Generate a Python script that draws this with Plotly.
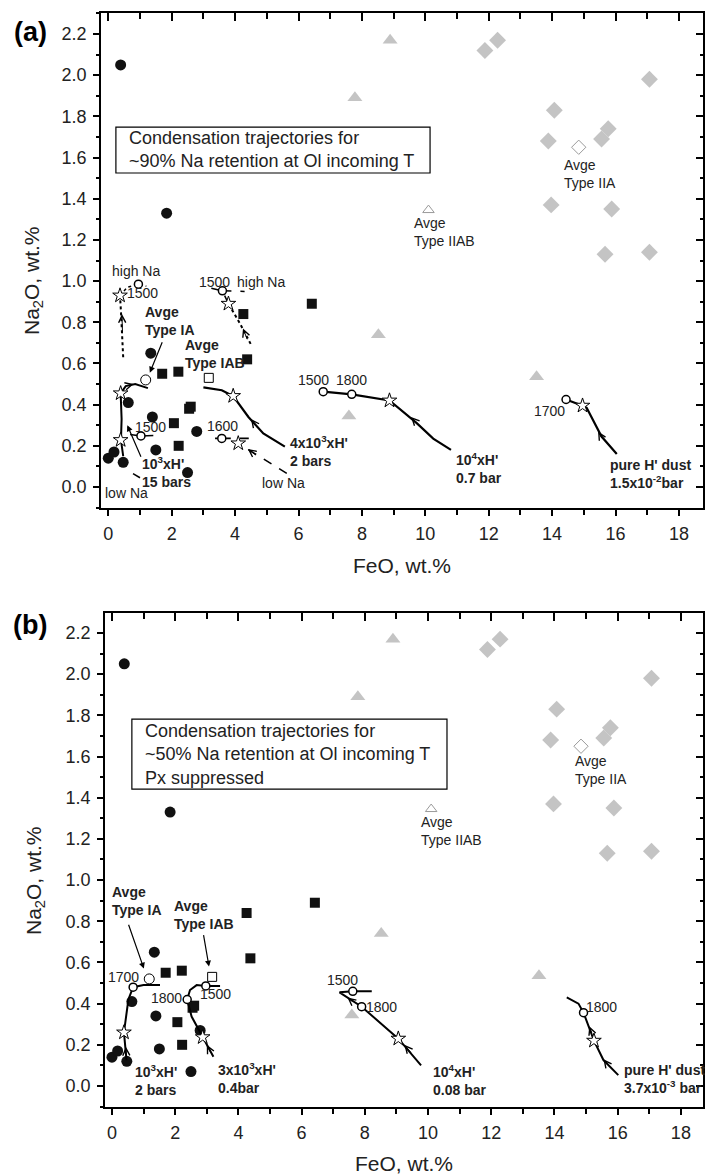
import plotly.graph_objects as go

FONT = "Liberation Sans, Arial, Helvetica, sans-serif"

# ---------------- meteorite data (same in both panels) ----------------
ia_feo = [0.39, 1.84, 0.00, 0.18, 0.47, 0.63, 1.34, 1.39, 1.50, 2.50, 2.79]
ia_na = [2.05, 1.33, 0.14, 0.17, 0.12, 0.41, 0.65, 0.34, 0.18, 0.07, 0.27]
iab_feo = [1.70, 2.21, 2.07, 2.22, 2.55, 2.60, 4.26, 4.38, 6.42]
iab_na = [0.55, 0.56, 0.31, 0.20, 0.38, 0.39, 0.84, 0.62, 0.89]
iiab_feo = [8.89, 7.78, 8.52, 13.51, 7.59]
iiab_na = [2.17, 1.89, 0.74, 0.535, 0.345]
iia_feo = [11.88, 12.28, 17.07, 14.07, 13.88, 15.77, 15.56, 13.97, 15.88, 15.67, 17.07]
iia_na = [2.12, 2.17, 1.98, 1.83, 1.68, 1.74, 1.69, 1.37, 1.35, 1.13, 1.14]
avg_ia_feo, avg_ia_na = [1.18], [0.52]
avg_iab_feo, avg_iab_na = [3.17], [0.53]
avg_iiab_feo, avg_iiab_na = [10.10], [1.345]
avg_iia_feo, avg_iia_na = [14.84], [1.65]

# ---------------- panel (a) trajectories ----------------
a1_feo = [0.47, 0.40, 0.42, 0.39, 0.55, 0.85, 1.25]
a1_na = [0.15, 0.228, 0.33, 0.455, 0.49, 0.50, 0.48]
a1lo_feo = [0.69, 1.03, 1.42]
a1lo_na = [0.255, 0.248, 0.25]
a1tail_feo = [0.78, 1.00]
a1tail_na = [0.065, 0.045]
a1hi_feo = [0.47, 0.44, 0.40, 0.37]
a1hi_na = [0.63, 0.75, 0.85, 0.93]
a1hid_feo = [0.37, 0.60, 0.95, 1.20]
a1hid_na = [0.93, 0.97, 0.985, 0.975]

a2_feo = [5.57, 4.89, 4.42, 3.94, 3.58, 3.00]
a2_na = [0.196, 0.26, 0.34, 0.442, 0.47, 0.484]
a2lo_feo = [5.63, 4.42, 4.10, 3.58, 3.30]
a2lo_na = [0.066, 0.18, 0.212, 0.236, 0.236]
a2lo2_feo = [3.58, 4.50]
a2lo2_na = [0.236, 0.236]
a2hi_feo = [4.49, 4.15, 3.79]
a2hi_na = [0.695, 0.795, 0.89]
a2hid_feo = [3.79, 3.60, 3.25]
a2hid_na = [0.89, 0.953, 0.965]
a2hid2_feo = [3.60, 4.30]
a2hid2_na = [0.953, 0.95]

a3_feo = [10.81, 10.25, 9.73, 8.87, 7.68, 6.78]
a3_na = [0.18, 0.235, 0.31, 0.42, 0.45, 0.463]
a4_feo = [16.04, 15.56, 15.09, 14.96, 14.44]
a4_na = [0.16, 0.245, 0.385, 0.395, 0.425]

stars_a_feo = [0.39, 0.39, 0.37, 3.94, 4.10, 3.79, 8.87, 14.96]
stars_a_na = [0.455, 0.228, 0.93, 0.442, 0.212, 0.89, 0.42, 0.395]
tcirc_a_feo = [1.03, 0.95, 3.58, 3.60, 6.78, 7.68, 14.44]
tcirc_a_na = [0.248, 0.985, 0.236, 0.953, 0.463, 0.45, 0.425]

# ---------------- panel (b) trajectories ----------------
b1_feo = [0.46, 0.38, 0.52, 0.67, 1.00, 1.52]
b1_na = [0.126, 0.26, 0.42, 0.48, 0.49, 0.49]
b2_feo = [3.21, 2.87, 2.52, 2.38, 2.47, 2.68, 2.97, 3.42]
b2_na = [0.142, 0.237, 0.337, 0.42, 0.466, 0.49, 0.486, 0.486]
b3_feo = [9.78, 9.06, 7.90, 7.20, 7.62, 8.22]
b3_na = [0.10, 0.23, 0.385, 0.455, 0.46, 0.46]
b4_feo = [16.02, 15.55, 15.25, 14.92, 14.76, 14.39]
b4_na = [0.053, 0.126, 0.22, 0.356, 0.40, 0.43]

stars_b_feo = [0.38, 2.87, 9.06, 15.25]
stars_b_na = [0.26, 0.237, 0.23, 0.22]
tcirc_b_feo = [0.67, 2.38, 2.97, 7.62, 7.90, 14.92]
tcirc_b_na = [0.48, 0.42, 0.486, 0.46, 0.385, 0.356]

fig = go.Figure()


def line(x, y, xa, ya, dash="solid", width=2.0):
    fig.add_trace(go.Scatter(x=x, y=y, xaxis=xa, yaxis=ya, mode="lines",
                             line=dict(color="black", width=width, dash=dash),
                             showlegend=False, hoverinfo="skip"))


def pts(x, y, xa, ya, symbol, size, color, lc=None, lw=0):
    fig.add_trace(go.Scatter(x=x, y=y, xaxis=xa, yaxis=ya, mode="markers",
                             marker=dict(symbol=symbol, size=size, color=color,
                                         line=dict(color=lc or color, width=lw)),
                             showlegend=False, hoverinfo="skip"))


def data_markers(xa, ya):
    pts(iia_feo, iia_na, xa, ya, "diamond", 13, "#c4c4c4")
    pts(iiab_feo, iiab_na, xa, ya, "triangle-up", 13, "#c4c4c4")
    pts(ia_feo, ia_na, xa, ya, "circle", 11, "#111111")
    pts(iab_feo, iab_na, xa, ya, "square", 10, "#111111")
    pts(avg_ia_feo, avg_ia_na, xa, ya, "circle", 10, "white", "black", 1)
    pts(avg_iab_feo, avg_iab_na, xa, ya, "square", 9, "white", "black", 1)
    pts(avg_iiab_feo, avg_iiab_na, xa, ya, "triangle-up", 10, "white", "#9a9a9a", 1)
    pts(avg_iia_feo, avg_iia_na, xa, ya, "diamond", 11, "white", "#9a9a9a", 1)


# panel (a)
data_markers("x", "y")
line(a1_feo, a1_na, "x", "y")
line(a1lo_feo, a1lo_na, "x", "y", width=1.5)
line(a1tail_feo, a1tail_na, "x", "y", "dash", 1.5)
line(a1hi_feo, a1hi_na, "x", "y", "dot", 2)
line(a1hid_feo, a1hid_na, "x", "y", "dot", 1.5)
line(a2_feo, a2_na, "x", "y", width=2.2)
line(a2lo_feo, a2lo_na, "x", "y", "dash", 1.6)
line(a2lo2_feo, a2lo2_na, "x", "y", "dash", 1.6)
line(a2hi_feo, a2hi_na, "x", "y", "dot", 2)
line(a2hid_feo, a2hid_na, "x", "y", "dash", 1.5)
line(a2hid2_feo, a2hid2_na, "x", "y", "dash", 1.5)
line(a3_feo, a3_na, "x", "y", width=2.2)
line(a4_feo, a4_na, "x", "y", width=2.2)
pts(tcirc_a_feo, tcirc_a_na, "x", "y", "circle", 8, "white", "black", 1.5)
pts(stars_a_feo, stars_a_na, "x", "y", "star", 11, "white", "black", 1)

# panel (b)
data_markers("x2", "y2")
line(b1_feo, b1_na, "x2", "y2")
line(b2_feo, b2_na, "x2", "y2")
line(b3_feo, b3_na, "x2", "y2")
line(b4_feo, b4_na, "x2", "y2")
pts(tcirc_b_feo, tcirc_b_na, "x2", "y2", "circle", 8, "white", "black", 1.5)
pts(stars_b_feo, stars_b_na, "x2", "y2", "star", 11, "white", "black", 1)

# invisible traces so the mirrored (inside-tick) axes get drawn
fig.add_trace(go.Scatter(x=[5], y=[1], xaxis="x3", yaxis="y3", mode="markers",
                         marker=dict(opacity=0), showlegend=False, hoverinfo="skip"))
fig.add_trace(go.Scatter(x=[5], y=[1], xaxis="x4", yaxis="y4", mode="markers",
                         marker=dict(opacity=0), showlegend=False, hoverinfo="skip"))

# ---------------- axes ----------------
xr_a = [-0.23, 18.76]
yr_a = [-0.102, 2.302]
xr_b = [-0.22, 18.70]
yr_b = [-0.102, 2.297]
dom_xa = [101 / 705, 703 / 705]
dom_ya = [1 - 508 / 1174, 1 - 13 / 1174]
dom_xb = [105 / 705, 703 / 705]
dom_yb = [1 - 1107 / 1174, 1 - 613 / 1174]

tickfont = dict(family=FONT, size=18, color="#222222")


def xax(domain, rng, anchor):
    return dict(domain=domain, range=rng, anchor=anchor, tick0=0, dtick=2,
                ticks="outside", ticklen=6, tickwidth=1.5, tickcolor="black",
                ticklabelstandoff=2,
                minor=dict(dtick=1, ticks="outside", ticklen=5, tickwidth=1.5, tickcolor="black"),
                showline=True, linewidth=1.8, linecolor="black", mirror=True,
                showgrid=False, zeroline=False, tickfont=tickfont)


def yax(domain, rng, anchor):
    return dict(domain=domain, range=rng, anchor=anchor, tick0=0, dtick=0.2,
                tickformat=".1f", ticklabelstandoff=3,
                ticks="outside", ticklen=6, tickwidth=1.5, tickcolor="black",
                minor=dict(dtick=0.1, ticks="outside", ticklen=3.5, tickwidth=1.5, tickcolor="black"),
                showline=True, linewidth=1.8, linecolor="black", mirror=True,
                showgrid=False, zeroline=False, tickfont=tickfont)


def xin(rng, over, anchor):
    return dict(range=rng, overlaying=over, anchor=anchor, side="top", tick0=0, dtick=2,
                ticks="inside", ticklen=8, tickwidth=1.5, tickcolor="black",
                minor=dict(dtick=1, ticks="inside", ticklen=6, tickwidth=1.5, tickcolor="black"),
                showticklabels=False, showline=False, showgrid=False, zeroline=False)


def yin(rng, over, anchor):
    return dict(range=rng, overlaying=over, anchor=anchor, side="right", tick0=0, dtick=0.2,
                ticks="inside", ticklen=7, tickwidth=1.5, tickcolor="black",
                minor=dict(dtick=0.1, ticks="inside", ticklen=3, tickwidth=1.5, tickcolor="black"),
                showticklabels=False, showline=False, showgrid=False, zeroline=False)


fig.update_layout(
    width=705, height=1174, margin=dict(l=0, r=0, t=0, b=0),
    paper_bgcolor="white", plot_bgcolor="white", showlegend=False,
    font=dict(family=FONT, color="#222222"),
    xaxis=xax(dom_xa, xr_a, "y"), yaxis=yax(dom_ya, yr_a, "x"),
    xaxis2=xax(dom_xb, xr_b, "y2"), yaxis2=yax(dom_yb, yr_b, "x2"),
    xaxis3=xin(xr_a, "x", "y3"), yaxis3=yin(yr_a, "y", "x3"),
    xaxis4=xin(xr_b, "x2", "y4"), yaxis4=yin(yr_b, "y2", "x4"),
)

# ---------------- text boxes ----------------
box_a = dict(x0=0.24, x1=10.15, y0=1.525, y1=1.748)
box_b = dict(x0=0.63, x1=10.60, y0=1.442, y1=1.782)
fig.add_shape(type="rect", xref="x", yref="y", line=dict(color="black", width=1.2),
              fillcolor="white", layer="below", **box_a)
fig.add_shape(type="rect", xref="x2", yref="y2", line=dict(color="black", width=1.2),
              fillcolor="white", layer="below", **box_b)

annots = []


def txt(xr, yr, x, y, text, size=14, bold=False, xanchor="center", yanchor="middle",
        align="left", color="#222222", angle=0):
    t = "<b>" + text.replace("<br>", "</b><br><b>") + "</b>" if bold else text
    annots.append(dict(xref=xr, yref=yr, x=x, y=y, text=t, showarrow=False,
                       xanchor=xanchor, yanchor=yanchor, align=align, textangle=angle,
                       font=dict(family=FONT, size=size, color=color)))


def arrow(xr, yr, tip, tail, head=2, width=1.2, size=1.0):
    annots.append(dict(xref=xr, yref=yr, axref=xr, ayref=yr, x=tip[0], y=tip[1],
                       ax=tail[0], ay=tail[1], text="", showarrow=True,
                       arrowhead=head, arrowwidth=width, arrowsize=size, arrowcolor="black"))


txt("x", "y", 0.59, 1.637, "Condensation trajectories for<br>~90% Na retention at Ol incoming T",
    size=18, xanchor="left")
txt("x2", "y2", 0.98, 1.612,
    "Condensation trajectories for<br>~50% Na retention at Ol incoming T<br>Px suppressed",
    size=18, xanchor="left")

# panel (a) labels
txt("x", "y", 0.87, 1.05, "high Na")
txt("x", "y", 1.08, 0.94, "1500")
txt("x", "y", 3.35, 0.995, "1500")
txt("x", "y", 4.83, 0.995, "high Na")
txt("x", "y", 1.09, 0.806, "Avge<br>Type IA", bold=True, xanchor="left")
txt("x", "y", 2.36, 0.646, "Avge<br>Type IAB", bold=True, xanchor="left")
txt("x", "y", 1.33, 0.29, "1500")
txt("x", "y", 3.59, 0.296, "1600")
txt("x", "y", 5.67, 0.175, "4x10<sup>3</sup>xH'<br>2 bars", bold=True, xanchor="left")
txt("x", "y", 1.00, 0.073, "10<sup>3</sup>xH'<br>15 bars", bold=True, xanchor="left")
txt("x", "y", -0.17, -0.03, "low Na", xanchor="left")
txt("x", "y", 5.53, 0.02, "low Na")
txt("x", "y", 6.46, 0.52, "1500")
txt("x", "y", 7.67, 0.52, "1800")
txt("x", "y", 10.9, 0.092, "10<sup>4</sup>xH'<br>0.7 bar", bold=True, xanchor="left")
txt("x", "y", 15.76, 0.063, "pure H' dust<br>1.5x10<sup>-2</sup>bar", bold=True, xanchor="left")
txt("x", "y", 13.93, 0.37, "1700")
txt("x", "y", 9.58, 1.24, "Avge<br>Type IIAB", xanchor="left")
txt("x", "y", 14.31, 1.52, "Avge<br>Type IIA", xanchor="left")

arrow("x", "y", (1.31, 0.555), (1.72, 0.71), head=2)
arrow("x", "y", (0.60, 0.30), (1.05, 0.14), head=2)
# direction chevrons (a)
arrow("x", "y", (4.50, 0.33), (4.75, 0.28), head=5, width=1, size=1.4)
arrow("x", "y", (4.40, 0.185), (4.70, 0.15), head=5, width=1, size=1.4)
arrow("x", "y", (4.25, 0.77), (4.40, 0.71), head=5, width=1, size=1.4)
arrow("x", "y", (0.43, 0.84), (0.45, 0.74), head=5, width=1, size=1.4)
arrow("x", "y", (9.55, 0.34), (9.80, 0.30), head=5, width=1, size=1.4)
arrow("x", "y", (15.45, 0.27), (15.60, 0.23), head=5, width=1, size=1.4)
arrow("x", "y", (0.80, 0.50), (0.60, 0.492), head=5, width=1, size=1.4)

# panel (b) labels
txt("x2", "y2", -0.06, 0.898, "Avge<br>Type IA", bold=True, xanchor="left")
txt("x2", "y2", 1.90, 0.83, "Avge<br>Type IAB", bold=True, xanchor="left")
txt("x2", "y2", 0.38, 0.53, "1700")
txt("x2", "y2", 1.74, 0.427, "1800")
txt("x2", "y2", 3.29, 0.447, "1500")
txt("x2", "y2", 0.66, 0.03, "10<sup>3</sup>xH'<br>2 bars", bold=True, xanchor="left")
txt("x2", "y2", 3.29, 0.04, "3x10<sup>3</sup>xH'<br>0.4bar", bold=True, xanchor="left")
txt("x2", "y2", 7.28, 0.515, "1500")
txt("x2", "y2", 8.54, 0.384, "1800")
txt("x2", "y2", 10.09, 0.03, "10<sup>4</sup>xH'<br>0.08 bar", bold=True, xanchor="left")
txt("x2", "y2", 15.50, 0.384, "1800")
txt("x2", "y2", 16.14, 0.034, "pure H' dust<br>3.7x10<sup>-3</sup> bar", bold=True, xanchor="left")
txt("x2", "y2", 9.72, 1.24, "Avge<br>Type IIAB", xanchor="left")
txt("x2", "y2", 14.59, 1.535, "Avge<br>Type IIA", xanchor="left")

arrow("x2", "y2", (1.01, 0.57), (0.51, 0.79), head=2)
arrow("x2", "y2", (3.07, 0.58), (2.89, 0.74), head=2)
arrow("x2", "y2", (0.44, 0.19), (0.46, 0.13), head=5, width=1, size=1.4)
arrow("x2", "y2", (3.00, 0.20), (3.15, 0.155), head=5, width=1, size=1.4)
arrow("x2", "y2", (9.25, 0.20), (9.50, 0.155), head=5, width=1, size=1.4)
arrow("x2", "y2", (7.45, 0.43), (7.65, 0.405), head=5, width=1, size=1.4)
arrow("x2", "y2", (15.10, 0.29), (15.20, 0.25), head=5, width=1, size=1.4)
arrow("x2", "y2", (15.55, 0.13), (15.70, 0.10), head=5, width=1, size=1.4)

# axis titles and panel letters (paper coordinates)
txt("paper", "paper", 33 / 705, 1 - 281 / 1174, "Na<sub>2</sub>O, wt.%", size=21, angle=-90)
txt("paper", "paper", 35 / 705, 1 - 881 / 1174, "Na<sub>2</sub>O, wt.%", size=21, angle=-90)
txt("paper", "paper", 402 / 705, 1 - 565 / 1174, "FeO, wt.%", size=21)
txt("paper", "paper", 404 / 705, 1 - 1163 / 1174, "FeO, wt.%", size=21)
txt("paper", "paper", 30 / 705, 1 - 32 / 1174, "(a)", size=27, bold=True, color="black")
txt("paper", "paper", 30 / 705, 1 - 625 / 1174, "(b)", size=27, bold=True, color="black")

fig.update_layout(annotations=annots)
fig.write_html("out.html")
